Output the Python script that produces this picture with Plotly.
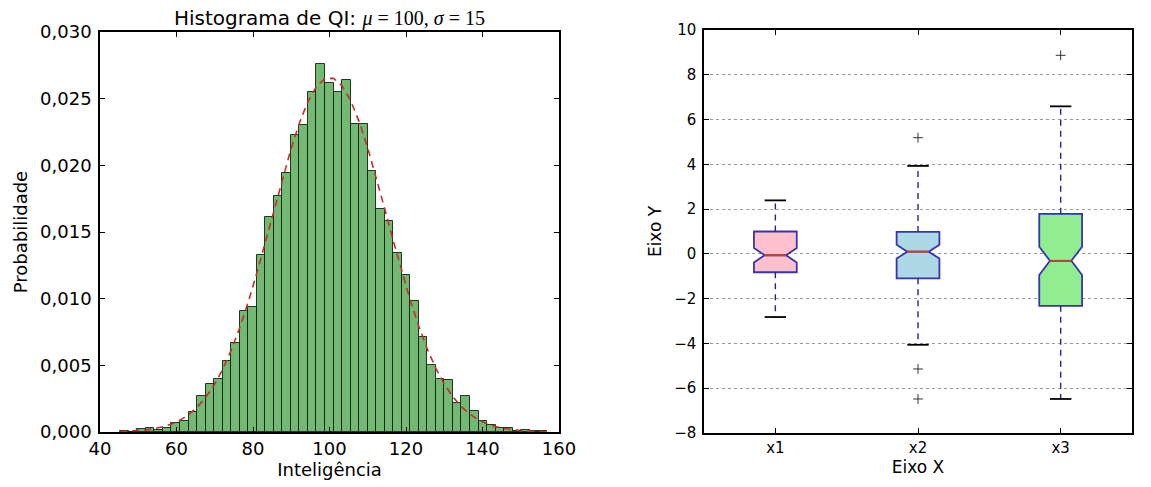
import plotly.graph_objects as go
from plotly.subplots import make_subplots

# ---- histogram of IQ (density per bin), 50 bins ----
bin_edges = [45.30, 47.53, 49.76, 51.99, 54.22, 56.45, 58.68, 60.91, 63.14, 65.37,
             67.60, 69.83, 72.06, 74.29, 76.52, 78.75, 80.98, 83.21, 85.44, 87.67,
             89.90, 92.13, 94.36, 96.59, 98.82, 101.05, 103.28, 105.51, 107.74, 109.97,
             112.20, 114.43, 116.66, 118.89, 121.12, 123.35, 125.58, 127.81, 130.04, 132.27,
             134.50, 136.73, 138.96, 141.19, 143.42, 145.65, 147.88, 150.11, 152.34, 154.57,
             156.80]
bar_heights = [0.00005, 0.00002, 0.0002, 0.0003, 0.00012, 0.0003, 0.0007, 0.0008, 0.0015, 0.0027,
               0.0036, 0.0040, 0.0053, 0.0067, 0.0091, 0.0094, 0.0133, 0.0161, 0.0177, 0.0194,
               0.0223, 0.0230, 0.0255, 0.0276, 0.0262, 0.0255, 0.0264, 0.0231, 0.0231, 0.0196,
               0.0167, 0.0158, 0.0134, 0.0118, 0.0098, 0.0071, 0.0050, 0.0040, 0.0039, 0.0022,
               0.0027, 0.0016, 0.0008, 0.00055, 0.0003, 0.0003, 0.0001, 0.00015, 0.0001, 0.00005]
# fitted normal curve (mu=100, sigma=15) read at the bin edges
curve_y = [0.00003, 0.00006, 0.00010, 0.00016, 0.00025, 0.00039, 0.00060, 0.00089, 0.00130, 0.00185,
           0.00258, 0.00352, 0.00469, 0.00612, 0.00781, 0.00975, 0.01190, 0.01422, 0.01660, 0.01897,
           0.02120, 0.02318, 0.02478, 0.02592, 0.02651, 0.02653, 0.02597, 0.02486, 0.02328, 0.02133,
           0.01911, 0.01675, 0.01435, 0.01204, 0.00987, 0.00792, 0.00621, 0.00477, 0.00358, 0.00263,
           0.00189, 0.00133, 0.00091, 0.00061, 0.00040, 0.00026, 0.00016, 0.00010, 0.00006, 0.00004,
           0.00002]

# ---- box plot summary ----
box_names = ["x1", "x2", "x3"]
box_pos = [1, 2, 3]
q1 = [-0.82, -1.09, -2.32]
median = [-0.06, 0.10, -0.31]
q3 = [1.00, 0.98, 1.79]
notch_span = [0.32, 0.31, 0.63]
whisker_low = [-2.82, -4.06, -6.48]
whisker_high = [2.39, 3.93, 6.59]
flier_x = [2, 2, 2, 3]
flier_y = [5.19, -5.14, -6.48, 8.87]
box_colors = ["#ffc0cb", "#add8e6", "#90ee90"]

centers = [(bin_edges[i] + bin_edges[i + 1]) / 2 for i in range(len(bar_heights))]
widths = [bin_edges[i + 1] - bin_edges[i] for i in range(len(bar_heights))]

fig = make_subplots(rows=1, cols=2)

fig.add_trace(go.Bar(x=centers, y=bar_heights, width=widths,
                     marker=dict(color="rgba(0,128,0,0.55)",
                                 line=dict(color="rgba(15,35,15,0.9)", width=1)),
                     showlegend=False), row=1, col=1)
fig.add_trace(go.Scatter(x=bin_edges, y=curve_y, mode="lines",
                         line=dict(color="rgb(200,45,40)", width=1.6, dash="7px,5px"),
                         showlegend=False), row=1, col=1)

box_w = 0.3
for i in range(3):
    fig.add_trace(go.Box(x=[box_pos[i]], q1=[q1[i]], median=[median[i]], q3=[q3[i]],
                         lowerfence=[q1[i]], upperfence=[q3[i]],
                         notched=True, notchspan=[notch_span[i]], notchwidth=0.25,
                         width=box_w, whiskerwidth=0,
                         fillcolor=box_colors[i], line=dict(color="#3535b0", width=1.8),
                         boxpoints=False, showlegend=False), row=1, col=2)
    p = box_pos[i]
    # dashed whiskers
    fig.add_trace(go.Scatter(x=[p, p, None, p, p],
                             y=[q3[i], whisker_high[i], None, q1[i], whisker_low[i]],
                             mode="lines", line=dict(color="#26267f", width=1.4, dash="6px,5px"),
                             showlegend=False), row=1, col=2)
    # caps
    c = box_w / 4
    fig.add_trace(go.Scatter(x=[p - c, p + c, None, p - c, p + c],
                             y=[whisker_high[i], whisker_high[i], None, whisker_low[i], whisker_low[i]],
                             mode="lines", line=dict(color="black", width=1.8),
                             showlegend=False), row=1, col=2)
    # median
    nw = box_w / 4
    fig.add_trace(go.Scatter(x=[p - nw, p + nw], y=[median[i], median[i]],
                             mode="lines", line=dict(color="#c8402f", width=2),
                             showlegend=False), row=1, col=2)

fig.add_trace(go.Scatter(x=flier_x, y=flier_y, mode="markers",
                         marker=dict(symbol="cross-thin", size=7, line=dict(color="#333", width=1)),
                         showlegend=False), row=1, col=2)

axis_common = dict(showline=True, linecolor="black", linewidth=1.5, mirror="ticks",
                   ticks="inside", ticklen=5, tickcolor="black", zeroline=False,
                   automargin=False)

fig.update_xaxes(domain=[0, 0.4448], range=[40, 160], dtick=20, showgrid=False,
                 tickfont=dict(size=18), ticklabelstandoff=0,
                 title=dict(text="Inteligência", font=dict(size=18), standoff=3),
                 **axis_common, row=1, col=1)
fig.update_yaxes(domain=[0.0025, 0.995], range=[0, 0.030], dtick=0.005, tickformat=".3f",
                 showgrid=False, tickfont=dict(size=18), ticklabelstandoff=3,
                 title=dict(text="Probabilidade", font=dict(size=18), standoff=8),
                 **axis_common, row=1, col=1)
fig.update_xaxes(domain=[0.5853, 1], range=[0.5, 3.5], tickvals=box_pos, ticktext=box_names,
                 showgrid=False, tickfont=dict(size=15), ticklabelstandoff=0,
                 title=dict(text="Eixo X", font=dict(size=17), standoff=3),
                 **axis_common, row=1, col=2)
fig.update_yaxes(domain=[0, 1], range=[-8, 10], dtick=2,
                 showgrid=True, gridcolor="#9a9a9a", griddash="dot", gridwidth=1,
                 tickfont=dict(size=15), ticklabelstandoff=3,
                 title=dict(text="Eixo Y", font=dict(size=17), standoff=8),
                 **axis_common, row=1, col=2)

fig.add_annotation(text="Histograma de QI: <span style=\"font-family:'Liberation Serif'\"><i>μ</i> = 100, <i>σ</i> = 15</span>",
                   xref="paper", yref="paper", x=0.2224, y=1.029, xanchor="center", yanchor="middle",
                   showarrow=False, font=dict(size=20, color="black"))

# the page sits 8px in from the top-left, so margins are shifted by that amount
fig.update_layout(width=1151, height=487, margin=dict(l=92, r=27, t=22, b=62),
                  paper_bgcolor="white", plot_bgcolor="white", separators=",.",
                  boxmode="overlay", bargap=0,
                  font=dict(family="DejaVu Sans", color="black"))

fig.write_html("out.html")
